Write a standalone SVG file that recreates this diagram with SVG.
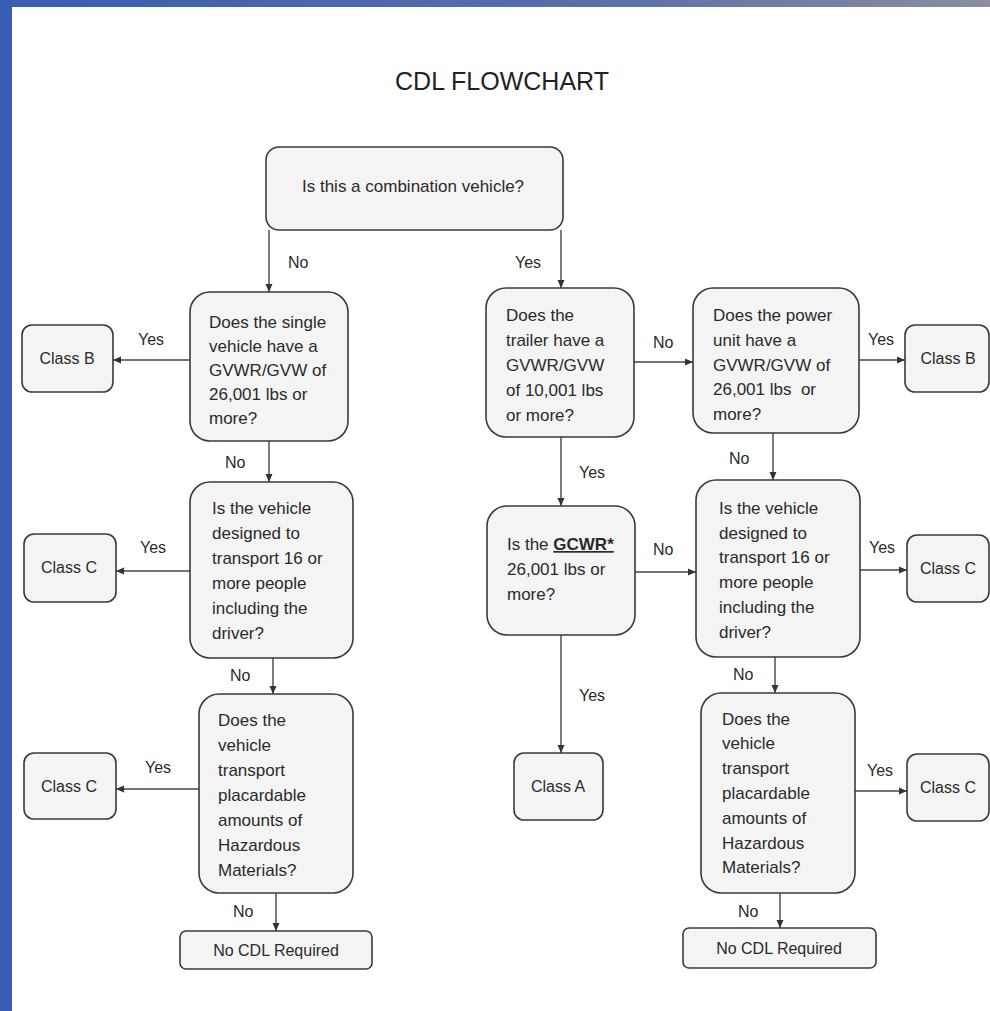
<svg xmlns="http://www.w3.org/2000/svg" width="990" height="1011" viewBox="0 0 990 1011">
<defs>
<linearGradient id="topband" x1="0" y1="0" x2="1" y2="0">
<stop offset="0" stop-color="#3a5cb2"/>
<stop offset="0.6" stop-color="#5870a8"/>
<stop offset="1" stop-color="#8a8e9e"/>
</linearGradient>
<marker id="arr" markerUnits="userSpaceOnUse" markerWidth="9" markerHeight="8" refX="8" refY="4" orient="auto">
<path d="M0,0.5 L8,4 L0,7.5 z" fill="#333"/>
</marker>
<style>
.box{fill:#f4f4f4;stroke:#3a3a3a;stroke-width:1.6}
.t{font-family:"Liberation Sans",Arial,sans-serif;font-size:17px;fill:#2a2a2a}
.lab{font-family:"Liberation Sans",Arial,sans-serif;font-size:16px;fill:#2a2a2a}
.c{text-anchor:middle}
.conn{fill:none;stroke:#444;stroke-width:1.4;marker-end:url(#arr)}
.title{font-family:"Liberation Sans",Arial,sans-serif;font-size:25px;fill:#222;text-anchor:middle}
</style>
</defs>
<rect x="0" y="0" width="990" height="1011" fill="#ffffff"/>
<rect x="0" y="0" width="990" height="7" fill="url(#topband)"/>
<rect x="0" y="0" width="12" height="1011" fill="#3a5cb2"/>
<text class="title" x="502" y="90">CDL FLOWCHART</text>

<g id="connectors">
<path class="conn" d="M269,230 V292"/>
<path class="conn" d="M561,230 V288"/>
<path class="conn" d="M190,360 H113"/>
<path class="conn" d="M269,441 V482"/>
<path class="conn" d="M190,571 H116"/>
<path class="conn" d="M273,658 V694"/>
<path class="conn" d="M199,789 H116"/>
<path class="conn" d="M276,893 V931"/>
<path class="conn" d="M634,362 H693"/>
<path class="conn" d="M859,360 H905"/>
<path class="conn" d="M773,433 V480"/>
<path class="conn" d="M561,437 V506"/>
<path class="conn" d="M635,572 H696"/>
<path class="conn" d="M860,570 H907"/>
<path class="conn" d="M561,635 V753"/>
<path class="conn" d="M775,657 V693"/>
<path class="conn" d="M855,791 H907"/>
<path class="conn" d="M780,893 V928"/>
<text class="lab" x="288" y="268">No</text>
<text class="lab" x="515" y="268">Yes</text>
<text class="lab" x="138" y="345">Yes</text>
<text class="lab" x="225" y="468">No</text>
<text class="lab" x="140" y="553">Yes</text>
<text class="lab" x="230" y="681">No</text>
<text class="lab" x="145" y="773">Yes</text>
<text class="lab" x="233" y="917">No</text>
<text class="lab" x="653" y="348">No</text>
<text class="lab" x="868" y="345">Yes</text>
<text class="lab" x="729" y="464">No</text>
<text class="lab" x="579" y="478">Yes</text>
<text class="lab" x="653" y="555">No</text>
<text class="lab" x="869" y="553">Yes</text>
<text class="lab" x="733" y="680">No</text>
<text class="lab" x="579" y="701">Yes</text>
<text class="lab" x="867" y="776">Yes</text>
<text class="lab" x="738" y="917">No</text>
</g>

<g id="n-combination">
<rect class="box" x="266" y="147" width="297" height="83" rx="13"/>
<text class="t" x="302" y="192">Is this a combination vehicle?</text>
</g>

<g id="n-single">
<rect class="box" x="190" y="292" width="158" height="149" rx="20"/>
<text class="t" x="209" y="328">Does the single</text>
<text class="t" x="209" y="352">vehicle have a</text>
<text class="t" x="209" y="376">GVWR/GVW of</text>
<text class="t" x="209" y="400">26,001 lbs or</text>
<text class="t" x="209" y="424">more?</text>
</g>

<g id="n-classb-left">
<rect class="box" x="22" y="325" width="91" height="67" rx="10"/>
<text class="lab c" x="67" y="364">Class B</text>
</g>

<g id="n-designed-left">
<rect class="box" x="190" y="482" width="163" height="176" rx="20"/>
<text class="t" x="212" y="514">Is the vehicle</text>
<text class="t" x="212" y="539">designed to</text>
<text class="t" x="212" y="564">transport 16 or</text>
<text class="t" x="212" y="589">more people</text>
<text class="t" x="212" y="614">including the</text>
<text class="t" x="212" y="639">driver?</text>
</g>

<g id="n-classc-left1">
<rect class="box" x="24" y="534" width="92" height="68" rx="10"/>
<text class="lab c" x="69" y="573">Class C</text>
</g>

<g id="n-hazmat-left">
<rect class="box" x="199" y="694" width="154" height="199" rx="20"/>
<text class="t" x="218" y="726">Does the</text>
<text class="t" x="218" y="751">vehicle</text>
<text class="t" x="218" y="776">transport</text>
<text class="t" x="218" y="801">placardable</text>
<text class="t" x="218" y="826">amounts of</text>
<text class="t" x="218" y="851">Hazardous</text>
<text class="t" x="218" y="876">Materials?</text>
</g>

<g id="n-classc-left2">
<rect class="box" x="24" y="753" width="92" height="66" rx="10"/>
<text class="lab c" x="69" y="792">Class C</text>
</g>

<g id="n-nocdl-left">
<rect class="box" x="180" y="931" width="192" height="38" rx="6"/>
<text class="lab c" x="276" y="956">No CDL Required</text>
</g>

<g id="n-trailer">
<rect class="box" x="486" y="288" width="148" height="149" rx="20"/>
<text class="t" x="506" y="321">Does the</text>
<text class="t" x="506" y="346">trailer have a</text>
<text class="t" x="506" y="371">GVWR/GVW</text>
<text class="t" x="506" y="396">of 10,001 lbs</text>
<text class="t" x="506" y="421">or more?</text>
</g>

<g id="n-power">
<rect class="box" x="693" y="288" width="166" height="145" rx="20"/>
<text class="t" x="713" y="321">Does the power</text>
<text class="t" x="713" y="346">unit have a</text>
<text class="t" x="713" y="371">GVWR/GVW of</text>
<text class="t" x="713" y="395" xml:space="preserve">26,001 lbs  or</text>
<text class="t" x="713" y="420">more?</text>
</g>

<g id="n-classb-right">
<rect class="box" x="905" y="325" width="84" height="67" rx="10"/>
<text class="lab c" x="948" y="364">Class B</text>
</g>

<g id="n-gcwr">
<rect class="box" x="487" y="506" width="148" height="129" rx="20"/>
<text class="t" x="507" y="550">Is the <tspan font-weight="bold" text-decoration="underline">GCWR*</tspan></text>
<text class="t" x="507" y="575">26,001 lbs or</text>
<text class="t" x="507" y="600">more?</text>
</g>

<g id="n-designed-right">
<rect class="box" x="696" y="480" width="164" height="177" rx="20"/>
<text class="t" x="719" y="514">Is the vehicle</text>
<text class="t" x="719" y="539">designed to</text>
<text class="t" x="719" y="563">transport 16 or</text>
<text class="t" x="719" y="588">more people</text>
<text class="t" x="719" y="613">including the</text>
<text class="t" x="719" y="638">driver?</text>
</g>

<g id="n-classc-right1">
<rect class="box" x="907" y="535" width="82" height="67" rx="10"/>
<text class="lab c" x="948" y="574">Class C</text>
</g>

<g id="n-classa">
<rect class="box" x="514" y="753" width="89" height="67" rx="10"/>
<text class="lab c" x="558" y="792">Class A</text>
</g>

<g id="n-hazmat-right">
<rect class="box" x="701" y="693" width="154" height="200" rx="20"/>
<text class="t" x="722" y="725">Does the</text>
<text class="t" x="722" y="749">vehicle</text>
<text class="t" x="722" y="774">transport</text>
<text class="t" x="722" y="799">placardable</text>
<text class="t" x="722" y="824">amounts of</text>
<text class="t" x="722" y="849">Hazardous</text>
<text class="t" x="722" y="873">Materials?</text>
</g>

<g id="n-classc-right2">
<rect class="box" x="907" y="754" width="82" height="67" rx="10"/>
<text class="lab c" x="948" y="793">Class C</text>
</g>

<g id="n-nocdl-right">
<rect class="box" x="683" y="928" width="193" height="40" rx="6"/>
<text class="lab c" x="779" y="954">No CDL Required</text>
</g>
</svg>
